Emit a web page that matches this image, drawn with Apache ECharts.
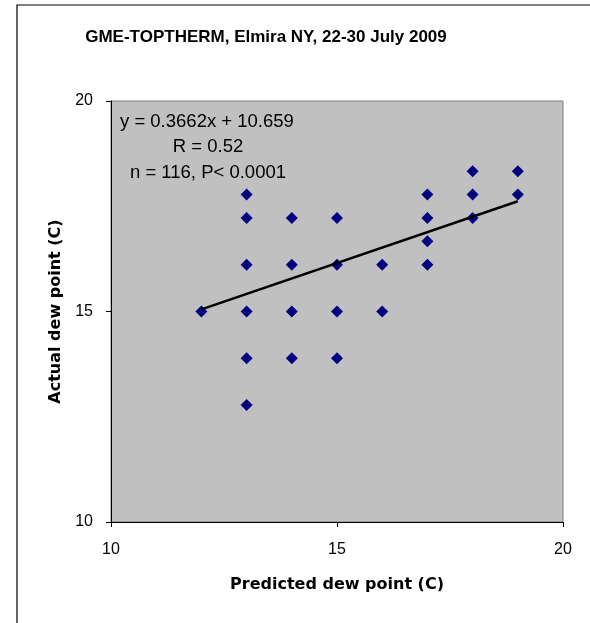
<!DOCTYPE html>
<html>
<head>
<meta charset="utf-8">
<script src="https://cdn.jsdelivr.net/npm/echarts@6/dist/echarts.min.js"></script>
<style>
html,body{margin:0;padding:0;background:#fff;}
#chart{width:590px;height:623px;}
</style>
</head>
<body>
<div id="chart"></div>
<script>
// Predicted dew point (C)
var predicted = [12, 13, 13, 13, 13, 13, 13, 14, 14, 14, 14, 15, 15, 15, 15, 16, 16, 17, 17, 17, 17, 18, 18, 18, 19, 19];
// Actual dew point (C)
var actual = [15.00, 17.78, 17.22, 16.11, 15.00, 13.89, 12.78, 17.22, 16.11, 15.00, 13.89, 17.22, 16.11, 15.00, 13.89, 16.11, 15.00, 17.78, 17.22, 16.67, 16.11, 18.33, 17.78, 17.22, 18.33, 17.78];
// Linear trend end points (y = 0.3662x + 10.659)
var trendX = [12, 19];
var trendY = [15.05, 17.62];
var xTicks = [10, 15, 20];
var yTicks = [10, 15, 20];
var titleText = 'GME-TOPTHERM, Elmira NY, 22-30 July 2009';
var eqLines = ['y = 0.3662x + 10.659', 'R = 0.52', 'n = 116, P< 0.0001'];

var font = "'Liberation Sans', Arial, sans-serif";
var wideFont = "'DejaVu Sans', sans-serif";
var pts = predicted.map(function (x, i) { return [x, actual[i]]; });
var trend = trendX.map(function (x, i) { return [x, trendY[i]]; });

var chart = echarts.init(document.getElementById('chart'), null, {renderer: 'canvas'});
chart.setOption({
  animation: false,
  backgroundColor: '#ffffff',
  grid: {left: 111, top: 101, right: 27, bottom: 101, show: true, backgroundColor: '#c0c0c0', borderColor: '#808080', borderWidth: 1},
  xAxis: {
    type: 'value', min: xTicks[0], max: xTicks[xTicks.length - 1], interval: 5,
    name: 'Predicted dew point (C)', nameLocation: 'middle', nameGap: 55,
    nameTextStyle: {fontFamily: wideFont, fontWeight: 'bold', fontSize: 16, color: '#000'},
    axisLine: {show: true, onZero: false, lineStyle: {color: '#000', width: 1}},
    axisTick: {show: true, length: 5, lineStyle: {color: '#000'}},
    axisLabel: {fontFamily: font, fontSize: 16, color: '#000', margin: 20},
    splitLine: {show: false}
  },
  yAxis: {
    type: 'value', min: yTicks[0], max: yTicks[yTicks.length - 1], interval: 5,
    name: 'Actual dew point (C)', nameLocation: 'middle', nameGap: 46,
    nameTextStyle: {fontFamily: wideFont, fontWeight: 'bold', fontSize: 16, color: '#000'},
    axisLine: {show: true, onZero: false, lineStyle: {color: '#000', width: 1}},
    axisTick: {show: true, length: 5, lineStyle: {color: '#000'}},
    axisLabel: {fontFamily: font, fontSize: 16, color: '#000', margin: 18},
    splitLine: {show: false}
  },
  series: [
    {
      type: 'line', data: trend, showSymbol: false, symbol: 'none',
      lineStyle: {color: '#000', width: 2.5}, z: 3
    },
    {
      type: 'scatter', data: pts, symbol: 'diamond', symbolSize: 12,
      itemStyle: {color: '#000080', opacity: 1}, z: 2
    }
  ],
  graphic: [
    {type: 'rect', shape: {x: 17, y: 5, width: 700, height: 700}, style: {fill: 'none', stroke: '#000', lineWidth: 1.2}, z: -10, silent: true},
    {type: 'text', x: 266, y: 37, style: {text: titleText, font: 'bold 17px ' + font, fill: '#000', textAlign: 'center', textVerticalAlign: 'middle'}},
    {type: 'text', x: 120, y: 122, style: {text: eqLines[0], font: '18.5px ' + font, fill: '#000', textAlign: 'left', textVerticalAlign: 'middle'}, z: 10},
    {type: 'text', x: 208, y: 147, style: {text: eqLines[1], font: '18.5px ' + font, fill: '#000', textAlign: 'center', textVerticalAlign: 'middle'}, z: 10},
    {type: 'text', x: 208, y: 173, style: {text: eqLines[2], font: '18.5px ' + font, fill: '#000', textAlign: 'center', textVerticalAlign: 'middle'}, z: 10}
  ]
});
</script>
</body>
</html>
